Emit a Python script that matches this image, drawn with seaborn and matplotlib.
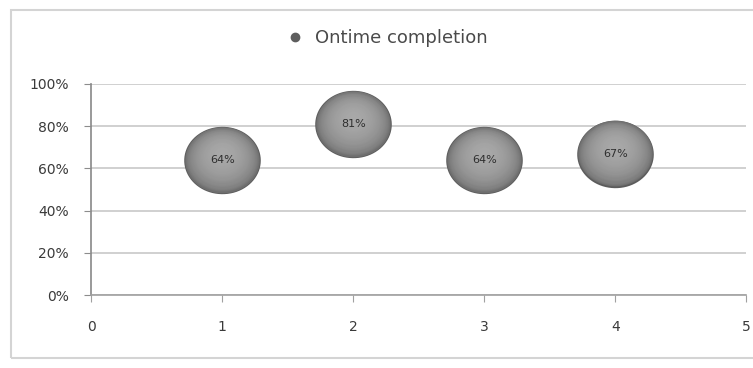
import numpy as np
import pandas as pd
import seaborn as sns
from matplotlib import pyplot as plt
from matplotlib.patches import Rectangle
from matplotlib.lines import Line2D
from matplotlib.colors import to_hex

# data
tasks = [1, 2, 3, 4]
ontime = [0.64, 0.81, 0.64, 0.67]
labels = ["64%", "81%", "64%", "67%"]
series_name = "Ontime completion"

df = pd.DataFrame({"task": tasks, "ontime": ontime})

sns.set_theme(style="white")
plt.rcParams['font.family'] = ['DejaVu Sans']

fig = plt.figure(figsize=(7.53, 3.68), dpi=100)
ax = fig.add_axes([0.121, 0.198, 0.870, 0.574])

# slightly flattened circle as marker
t = np.linspace(0, 2 * np.pi, 80)
ell = np.column_stack([np.cos(t), 0.88 * np.sin(t)])

# fake 3d sphere: many stacked layers, dark rim -> lighter centre a bit above middle
n_layers = 24
for i in range(n_layers):
    f = i / (n_layers - 1)
    s = 3000 * (1 - f) ** 1.1 + 40
    g = 0.36 + 0.30 * f ** 0.45
    dy = 0.03 * f
    sns.scatterplot(data=df.assign(ontime=df["ontime"] + dy), x="task", y="ontime",
                    s=s, color=to_hex((g, g, g)), marker=ell, linewidth=0,
                    ax=ax, legend=False, zorder=3)

for x, y, lb in zip(tasks, ontime, labels):
    ax.text(x, y, lb, ha="center", va="center", fontsize=8, color="#2e2e2e", zorder=5)

ax.set_xlim(0, 5)
ax.set_ylim(0, 1.0)
ax.set_xticks(range(0, 6))
ax.set_yticks(np.arange(0, 1.01, 0.2))
ax.set_yticklabels([f"{int(v * 100)}%" for v in np.arange(0, 1.01, 0.2)])
ax.grid(axis="y", color="#c8c8c8", linewidth=1.2, zorder=0)
ax.set_axisbelow(True)
for side in ["top", "right"]:
    ax.spines[side].set_visible(False)
ax.spines["left"].set_color("#8c8c8c")
ax.spines["bottom"].set_color("#a0a0a0")
ax.spines["bottom"].set_linewidth(1.2)
ax.tick_params(axis="both", colors="#3a3a3a", labelsize=10, length=5, width=0.8,
               direction="out", left=True, bottom=True)
ax.tick_params(axis="x", pad=13, color="#a0a0a0")
ax.tick_params(axis="y", color="#8c8c8c", pad=11)
ax.set_xlabel("")
ax.set_ylabel("")

handle = Line2D([], [], marker="o", linestyle="", markersize=6,
                markerfacecolor="#5e5e5e", markeredgecolor="#5e5e5e")
fig.legend([handle], [series_name], loc="center", bbox_to_anchor=(0.508, 0.897),
           frameon=False, fontsize=13, handletextpad=0.1, labelcolor="#4a4a4a")

# outer chart frame
fig.patches.append(Rectangle((0.015, 0.027), 1.0, 0.947, transform=fig.transFigure,
                             fill=False, edgecolor="#d4d4d4", linewidth=1.5))

plt.savefig("out.png", dpi=100)
